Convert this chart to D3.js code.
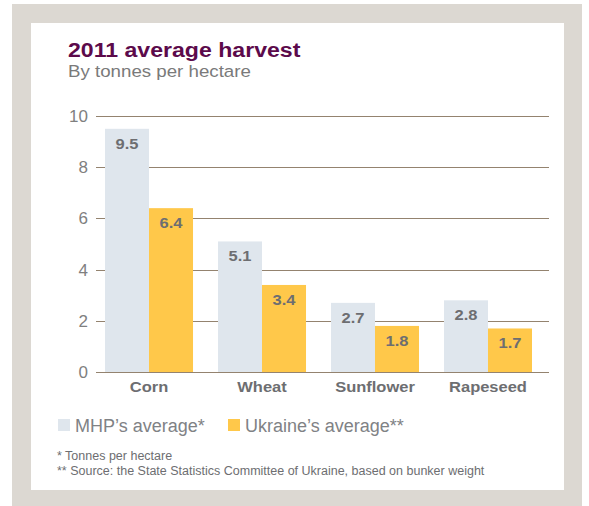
<!DOCTYPE html>
<html>
<head>
<meta charset="utf-8">
<script src="https://cdn.jsdelivr.net/npm/d3@7"></script>
<style>
  html, body { margin: 0; padding: 0; background: #ffffff; }
  svg { display: block; font-family: "Liberation Sans", Arial, Helvetica, sans-serif; }
</style>
</head>
<body>
<svg id="chart" width="589" height="506"></svg>
<script>
// Average harvest, tonnes per hectare, 2011
const categories = ["Corn", "Wheat", "Sunflower", "Rapeseed"];
const seriesNames = ["MHP\u2019s average*", "Ukraine\u2019s average**"];
const mhpValues = [9.5, 5.1, 2.7, 2.8];
const ukraineValues = [6.4, 3.4, 1.8, 1.7];
const yTicks = [0, 2, 4, 6, 8, 10];
const footnotes = [
  "* Tonnes per hectare",
  "** Source: the State Statistics Committee of Ukraine, based on bunker weight"
];

const colors = ["#dfe6ed", "#ffc84a"];
const textGray = "#6d6e71";

const svg = d3.select("#chart");

// places a text at (x, y) with a slight horizontal widening
function label(parent, x, y, sx) {
  return parent.append("text").attr("transform", `translate(${x},${y}) scale(${sx},1)`);
}

// frame and white panel
svg.append("rect").attr("x", 12).attr("y", 4).attr("width", 570).attr("height", 502).attr("fill", "#dcd8d2");
svg.append("rect").attr("x", 31).attr("y", 23).attr("width", 533).attr("height", 467).attr("fill", "#ffffff");

// headings
label(svg, 68, 57, 1.1)
  .attr("font-size", 21).attr("font-weight", "bold").attr("fill", "#5c0a4b")
  .text("2011 average harvest");
label(svg, 68, 77, 1.1)
  .attr("font-size", 17).attr("fill", "#7a7a7a")
  .text("By tonnes per hectare");

// scales
const y = d3.scaleLinear().domain([0, 10]).range([372, 116]);
const x = d3.scaleBand().domain(categories).range([105, 532]).paddingInner(0.221).paddingOuter(0);
const xs = d3.scaleBand().domain([0, 1]).range([0, x.bandwidth()]).padding(0);

// gridlines
const grid = svg.append("g");
grid.selectAll("line").data(yTicks).join("line")
  .attr("x1", 96).attr("x2", 549)
  .attr("y1", d => Math.round(y(d)) + 0.5).attr("y2", d => Math.round(y(d)) + 0.5)
  .attr("stroke", "#94836f").attr("stroke-width", 1);

// y axis labels
const yAxis = d3.axisLeft(y).tickValues(yTicks).tickSize(0).tickPadding(0);
const ya = svg.append("g").attr("transform", "translate(88,0)").call(yAxis);
ya.select(".domain").remove();
ya.selectAll("text").attr("font-size", 17).attr("fill", "#7f7f7f")
  .attr("font-family", "Liberation Sans, Arial, sans-serif");

// bars
const rows = categories.map((c, i) => ({ c, vals: [mhpValues[i], ukraineValues[i]] }));
const groups = svg.append("g").selectAll("g").data(rows).join("g")
  .attr("transform", d => `translate(${x(d.c)},0)`);

groups.selectAll("rect").data(d => d.vals.map((v, k) => ({ v, k }))).join("rect")
  .attr("x", d => xs(d.k)).attr("width", xs.bandwidth())
  .attr("y", d => y(d.v)).attr("height", d => y(0) - y(d.v))
  .attr("fill", d => colors[d.k]);

groups.selectAll("text.val").data(d => d.vals.map((v, k) => ({ v, k }))).join("text")
  .attr("class", "val")
  .attr("transform", d => `translate(${xs(d.k) + xs.bandwidth() / 2},${y(d.v) + 20}) scale(1.1,1)`)
  .attr("text-anchor", "middle")
  .attr("font-size", 15).attr("font-weight", "bold").attr("fill", textGray)
  .text(d => d3.format(".1f")(d.v));

// baseline over bars
svg.append("line").attr("x1", 96).attr("x2", 549)
  .attr("y1", Math.round(y(0)) + 0.5).attr("y2", Math.round(y(0)) + 0.5)
  .attr("stroke", "#94836f").attr("stroke-width", 1);

// category axis
const xAxis = d3.axisBottom(x).tickSize(0).tickPadding(0);
const xa = svg.append("g").attr("transform", "translate(0,381)").call(xAxis);
xa.select(".domain").remove();
xa.selectAll("text").attr("font-size", 15).attr("font-weight", "bold").attr("fill", textGray)
  .attr("font-family", "Liberation Sans, Arial, sans-serif").attr("dy", "0.71em")
  .attr("transform", "scale(1.1,1)");

// legend
const legendX = [58, 228];
const legend = svg.append("g").selectAll("g").data(seriesNames).join("g")
  .attr("transform", (d, i) => `translate(${legendX[i]},419)`);
legend.append("rect").attr("width", 12).attr("height", 12).attr("fill", (d, i) => colors[i]);
legend.append("text").attr("x", 17).attr("y", 12.5).attr("font-size", 18).attr("fill", "#808285")
  .text(d => d);

// footnotes
svg.append("g").selectAll("text").data(footnotes).join("text")
  .attr("x", 57).attr("y", (d, i) => 460 + i * 15)
  .attr("font-size", 12.5).attr("fill", textGray)
  .text(d => d);
</script>
</body>
</html>
